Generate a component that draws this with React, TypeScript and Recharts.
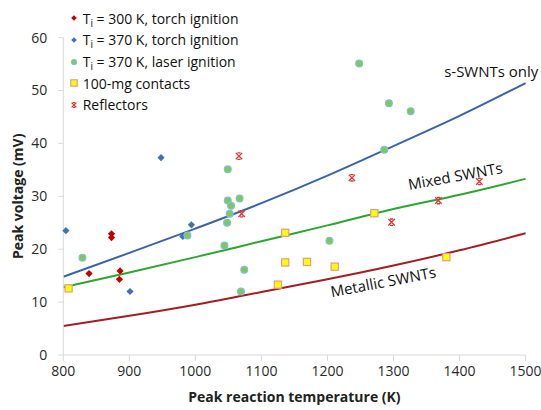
import React from "react";
import {
  ComposedChart,
  Line,
  Scatter,
  XAxis,
  YAxis,
  ReferenceDot,
} from "recharts";

// measured points, [temperature K, peak voltage mV]
const torch300: [number, number][] = [
  [839, 15.4], [873, 22.9], [873, 22.2], [886, 15.9], [885, 14.3],
];
const torch370: [number, number][] = [
  [804, 23.5], [948, 37.3], [981, 22.4], [994, 24.6], [901, 12.0],
];
const laser370: [number, number][] = [
  [829, 18.4], [988, 22.6], [1049, 35.1], [1049, 29.2], [1054, 28.2],
  [1052, 26.7], [1067, 29.6], [1048, 25.0], [1044, 20.7], [1074, 16.1],
  [1069, 12.0], [1248, 55.1], [1293, 47.6], [1326, 46.1], [1286, 38.8],
  [1203, 21.6],
];
const contacts100mg: [number, number][] = [
  [808, 12.6], [1136, 23.1], [1136, 17.5], [1125, 13.3], [1169, 17.6],
  [1211, 16.7], [1271, 26.8], [1380, 18.5],
];
const reflectors: [number, number][] = [
  [1066, 37.6], [1070, 26.7], [1237, 33.5], [1297, 25.1], [1368, 29.2],
  [1430, 32.8],
];

// model curves
const curveTemps = [800, 900, 1000, 1100, 1200, 1300, 1400, 1500];
const sOnly = [14.8, 19.3, 23.9, 28.7, 33.9, 39.5, 45.2, 51.4];
const mixed = [12.8, 15.6, 18.5, 21.5, 24.5, 27.6, 30.3, 33.3];
const metallic = [5.5, 7.4, 9.5, 11.9, 14.3, 16.9, 19.8, 23.0];

const xTicks = [800, 900, 1000, 1100, 1200, 1300, 1400, 1500];
const yTicks = [0, 10, 20, 30, 40, 50, 60];

const FONT = "'Open Sans', sans-serif";
const AXIS_GRAY = "#d9d9d9";

const toPoints = (pts: [number, number][]) => pts.map(([t, v]) => ({ t, v }));
const toCurve = (vals: number[]) => curveTemps.map((t, i) => ({ t, v: vals[i] }));

const Diamond = ({ cx, cy, color, s = 3.6 }: any) => (
  <path d={`M${cx},${cy - s}L${cx + s},${cy}L${cx},${cy + s}L${cx - s},${cy}Z`} fill={color} />
);
const Dot = ({ cx, cy, r = 3.4 }: any) => (
  <circle cx={cx} cy={cy} r={r} fill="#82c65a" stroke="#7cc2d8" strokeWidth={1.2} />
);
const Square = ({ cx, cy, s = 3.6 }: any) => (
  <rect x={cx - s} y={cy - s} width={2 * s} height={2 * s} fill="#ffff00" stroke="#e39b8c" strokeWidth={1.2} />
);
const Cross = ({ cx, cy, s = 3.2 }: any) => (
  <g stroke="#e03535" strokeWidth={1.3} fill="none">
    <path d={`M${cx - s},${cy - s}L${cx + s},${cy + s}M${cx + s},${cy - s}L${cx - s},${cy + s}`} />
    <path d={`M${cx - s * 0.5},${cy - s}L${cx + s * 0.5},${cy - s}M${cx - s * 0.5},${cy + s}L${cx + s * 0.5},${cy + s}`} />
  </g>
);

const legendItems = [
  { icon: <Diamond cx={6} cy={6} s={2.8} color="#c00000" />, temp: "300 K, torch ignition" },
  { icon: <Diamond cx={6} cy={6} s={2.8} color="#3f72b5" />, temp: "370 K, torch ignition" },
  { icon: <Dot cx={6} cy={6} r={2.5} />, temp: "370 K, laser ignition" },
  { icon: <Square cx={6} cy={6} s={3.2} />, label: "100-mg contacts" },
  { icon: <Cross cx={6} cy={6} s={2.4} />, label: "Reflectors" },
];

const curveLabel = (text: string, angle: number) => (props: any) => {
  const { x, y } = props.viewBox;
  return (
    <text
      x={x}
      y={y}
      textAnchor="middle"
      fontFamily={FONT}
      fontSize={15}
      fill="#111"
      transform={`rotate(${angle} ${x} ${y})`}
    >
      {text}
    </text>
  );
};

export default function App() {
  return (
    <div style={{ position: "relative", width: 541, height: 410, background: "#fff" }}>
      <style>{"body{margin:0}"}</style>
      <ComposedChart width={541} height={410} margin={{ top: 37.6, right: 15.4, bottom: 0, left: 0 }}>
        <XAxis
          type="number"
          dataKey="t"
          domain={[800, 1500]}
          ticks={xTicks}
          stroke={AXIS_GRAY}
          tickSize={6}
          tickMargin={5}
          height={55}
          tick={{ fill: "#2a2a2a", fontSize: 14, fontFamily: FONT }}
          label={{
            value: "Peak reaction temperature (K)",
            position: "insideBottom",
            offset: 8,
            fill: "#222",
            fontSize: 14,
            fontWeight: 700,
            fontFamily: FONT,
          }}
        />
        <YAxis
          type="number"
          dataKey="v"
          domain={[0, 60]}
          ticks={yTicks}
          stroke={AXIS_GRAY}
          tickSize={5}
          tickMargin={11}
          width={63.3}
          tick={{ fill: "#2a2a2a", fontSize: 14, fontFamily: FONT }}
          label={{
            content: (p: any) => {
              const vb = p.viewBox;
              const x = vb.x + 17.5;
              const y = vb.y + vb.height / 2;
              return (
                <text
                  x={x}
                  y={y}
                  textAnchor="middle"
                  dominantBaseline="central"
                  transform={`rotate(-90 ${x} ${y})`}
                  fontFamily={FONT}
                  fontSize={14}
                  fontWeight={700}
                  fill="#222"
                >
                  Peak voltage (mV)
                </text>
              );
            },
          }}
        />
        <Line data={toCurve(sOnly)} dataKey="v" type="monotone" stroke="#3b64a8" strokeWidth={2} dot={false} isAnimationActive={false} />
        <Line data={toCurve(mixed)} dataKey="v" type="monotone" stroke="#2ea52e" strokeWidth={2} dot={false} isAnimationActive={false} />
        <Line data={toCurve(metallic)} dataKey="v" type="monotone" stroke="#a31d22" strokeWidth={2} dot={false} isAnimationActive={false} />

        <Scatter data={toPoints(torch300)} dataKey="v" isAnimationActive={false} shape={(p: any) => <Diamond cx={p.cx} cy={p.cy} color="#c00000" />} />
        <Scatter data={toPoints(torch370)} dataKey="v" isAnimationActive={false} shape={(p: any) => <Diamond cx={p.cx} cy={p.cy} color="#3f72b5" />} />
        <Scatter data={toPoints(laser370)} dataKey="v" isAnimationActive={false} shape={(p: any) => <Dot cx={p.cx} cy={p.cy} />} />
        <Scatter data={toPoints(contacts100mg)} dataKey="v" isAnimationActive={false} shape={(p: any) => <Square cx={p.cx} cy={p.cy} />} />
        <Scatter data={toPoints(reflectors)} dataKey="v" isAnimationActive={false} shape={(p: any) => <Cross cx={p.cx} cy={p.cy} />} />

        <ReferenceDot x={1448} y={52.6} r={0} fill="none" stroke="none" ifOverflow="visible" label={{ content: curveLabel("s-SWNTs only", 0) }} />
        <ReferenceDot x={1395} y={32.8} r={0} fill="none" stroke="none" ifOverflow="visible" label={{ content: curveLabel("Mixed SWNTs", -10.3) }} />
        <ReferenceDot x={1286} y={12.8} r={0} fill="none" stroke="none" ifOverflow="visible" label={{ content: curveLabel("Metallic SWNTs", -10.8) }} />
      </ComposedChart>

      <div
        style={{
          position: "absolute",
          left: 68,
          top: 7.5,
          fontFamily: FONT,
          fontSize: 14,
          color: "#111",
          lineHeight: "21.7px",
        }}
      >
        {legendItems.map((item, i) => (
          <div key={i} style={{ display: "flex", alignItems: "center", height: 21.7 }}>
            <svg width={12} height={12} style={{ marginRight: 2.7 }}>
              {item.icon}
            </svg>
            {item.label ? (
              <span>{item.label}</span>
            ) : (
              <span>
                T<sub style={{ fontSize: 10, verticalAlign: -3, lineHeight: 0 }}>i</sub> = {item.temp}
              </span>
            )}
          </div>
        ))}
      </div>
    </div>
  );
}
